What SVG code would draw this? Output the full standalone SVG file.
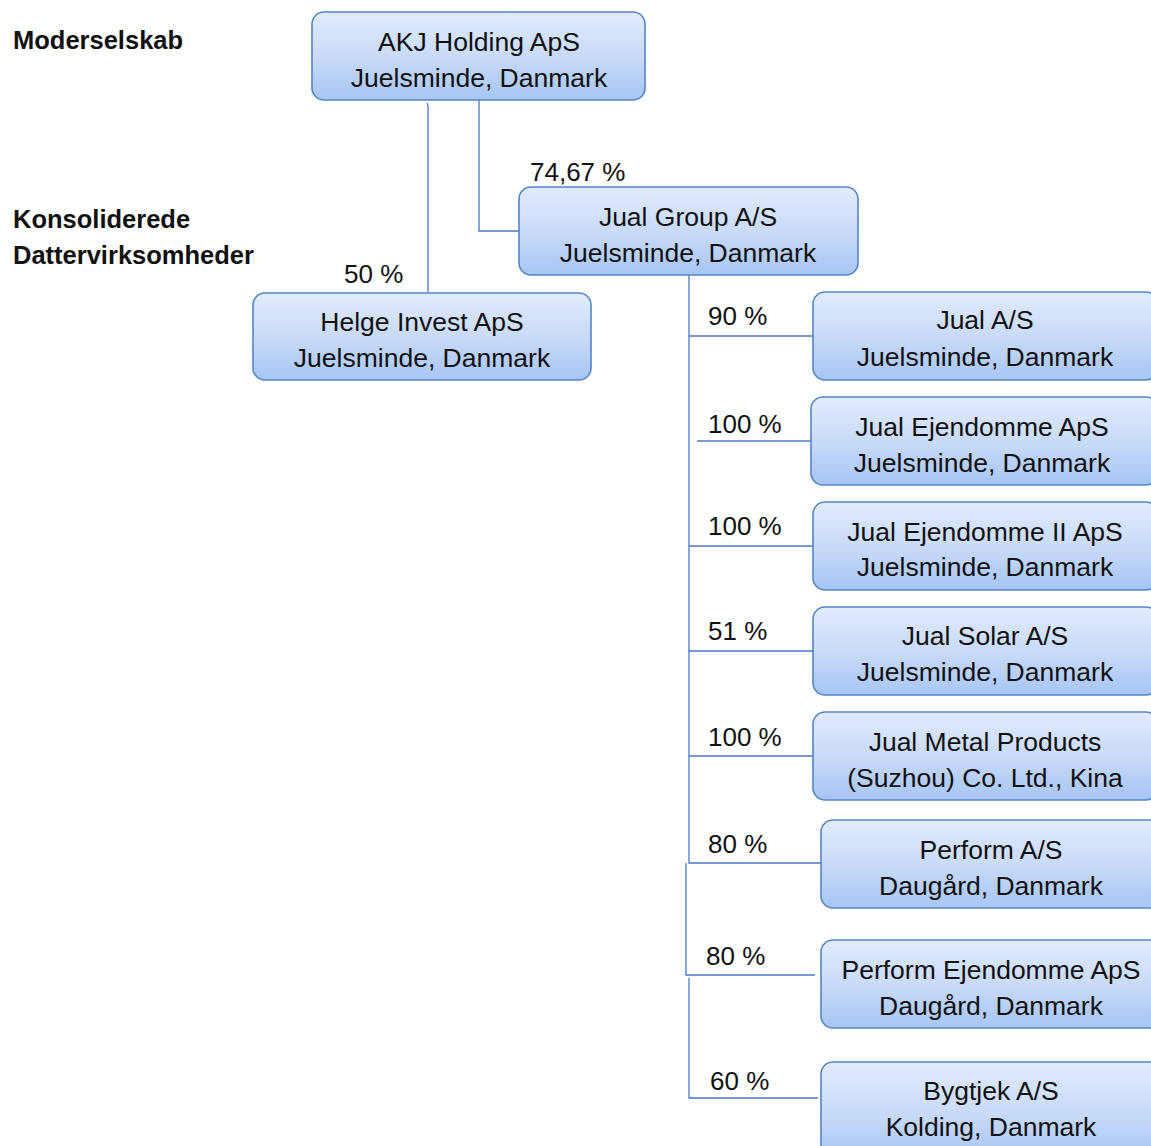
<svg xmlns="http://www.w3.org/2000/svg" width="1151" height="1146" viewBox="0 0 1151 1146">
<defs>
<linearGradient id="g" x1="0" y1="0" x2="0" y2="1">
<stop offset="0" stop-color="#e1ebfc"/>
<stop offset="0.5" stop-color="#c9dbf8"/>
<stop offset="1" stop-color="#a7c5f4"/>
</linearGradient>
<style>
.box{fill:url(#g);stroke:#5585c6;stroke-width:1.6}
.t{font-family:"Liberation Sans",Arial,sans-serif;font-size:26.5px;fill:#111;text-anchor:middle}
.p{font-family:"Liberation Sans",Arial,sans-serif;font-size:26px;fill:#111}
.h{font-family:"Liberation Sans",Arial,sans-serif;font-size:25.5px;font-weight:bold;fill:#111}
.c{fill:none;stroke:#4a78c8;stroke-width:1.3}
</style>
</defs>
<rect width="1151" height="1146" fill="#fff"/>
<text class="h" x="13" y="49">Moderselskab</text>
<text class="h" x="13" y="228">Konsoliderede</text>
<text class="h" x="13" y="264">Dattervirksomheder</text>
<g id="connectors">
<path class="c" d="M427,103 L428,106 L428,292"/>
<path class="c" d="M479,100 L479,231 L519,231"/>
<path class="c" d="M689,275 L689,863 L821,863"/>
<path class="c" d="M686,863 L686,975 L815,975"/>
<path class="c" d="M689,978 L689,1098 L818,1098"/>
<path class="c" d="M689,336 L813,336"/>
<path class="c" d="M697,441 L811,441"/>
<path class="c" d="M689,546 L813,546"/>
<path class="c" d="M689,651 L813,651"/>
<path class="c" d="M689,756 L813,756"/>
</g>
<g id="labels">
<text class="p" x="530" y="181">74,67 %</text>
<text class="p" x="344" y="283">50 %</text>
<text class="p" x="708" y="325">90 %</text>
<text class="p" x="708" y="433">100 %</text>
<text class="p" x="708" y="535">100 %</text>
<text class="p" x="708" y="640">51 %</text>
<text class="p" x="708" y="746">100 %</text>
<text class="p" x="708" y="853">80 %</text>
<text class="p" x="706" y="965">80 %</text>
<text class="p" x="710" y="1090">60 %</text>
</g>
<g id="akj"><rect class="box" x="312" y="12" width="333" height="88" rx="12"/><text class="t" x="479" y="51">AKJ Holding ApS</text><text class="t" x="479" y="87">Juelsminde, Danmark</text></g>
<g id="jualgroup"><rect class="box" x="519" y="187" width="339" height="88" rx="12"/><text class="t" x="688" y="226">Jual Group A/S</text><text class="t" x="688" y="262">Juelsminde, Danmark</text></g>
<g id="helge"><rect class="box" x="253" y="293" width="338" height="87" rx="12"/><text class="t" x="422" y="331">Helge Invest ApS</text><text class="t" x="422" y="367">Juelsminde, Danmark</text></g>
<g id="jualas"><rect class="box" x="813" y="292" width="345" height="88" rx="12"/><text class="t" x="985" y="329">Jual A/S</text><text class="t" x="985" y="366">Juelsminde, Danmark</text></g>
<g id="jualejendomme"><rect class="box" x="811" y="397" width="347" height="88" rx="12"/><text class="t" x="982" y="436">Jual Ejendomme ApS</text><text class="t" x="982" y="472">Juelsminde, Danmark</text></g>
<g id="jualejendomme2"><rect class="box" x="813" y="502" width="345" height="88" rx="12"/><text class="t" x="985" y="541">Jual Ejendomme II ApS</text><text class="t" x="985" y="576">Juelsminde, Danmark</text></g>
<g id="jualsolar"><rect class="box" x="813" y="607" width="345" height="88" rx="12"/><text class="t" x="985" y="645">Jual Solar A/S</text><text class="t" x="985" y="681">Juelsminde, Danmark</text></g>
<g id="jualmetal"><rect class="box" x="813" y="712" width="345" height="88" rx="12"/><text class="t" x="985" y="751">Jual Metal Products</text><text class="t" x="985" y="787">(Suzhou) Co. Ltd., Kina</text></g>
<g id="perform"><rect class="box" x="821" y="820" width="345" height="88" rx="12"/><text class="t" x="991" y="859">Perform A/S</text><text class="t" x="991" y="895">Daugård, Danmark</text></g>
<g id="performejendomme"><rect class="box" x="821" y="940" width="345" height="88" rx="12"/><text class="t" x="991" y="979">Perform Ejendomme ApS</text><text class="t" x="991" y="1015">Daugård, Danmark</text></g>
<g id="bygtjek"><rect class="box" x="821" y="1062" width="345" height="100" rx="12"/><text class="t" x="991" y="1100">Bygtjek A/S</text><text class="t" x="991" y="1136">Kolding, Danmark</text></g>
</svg>
